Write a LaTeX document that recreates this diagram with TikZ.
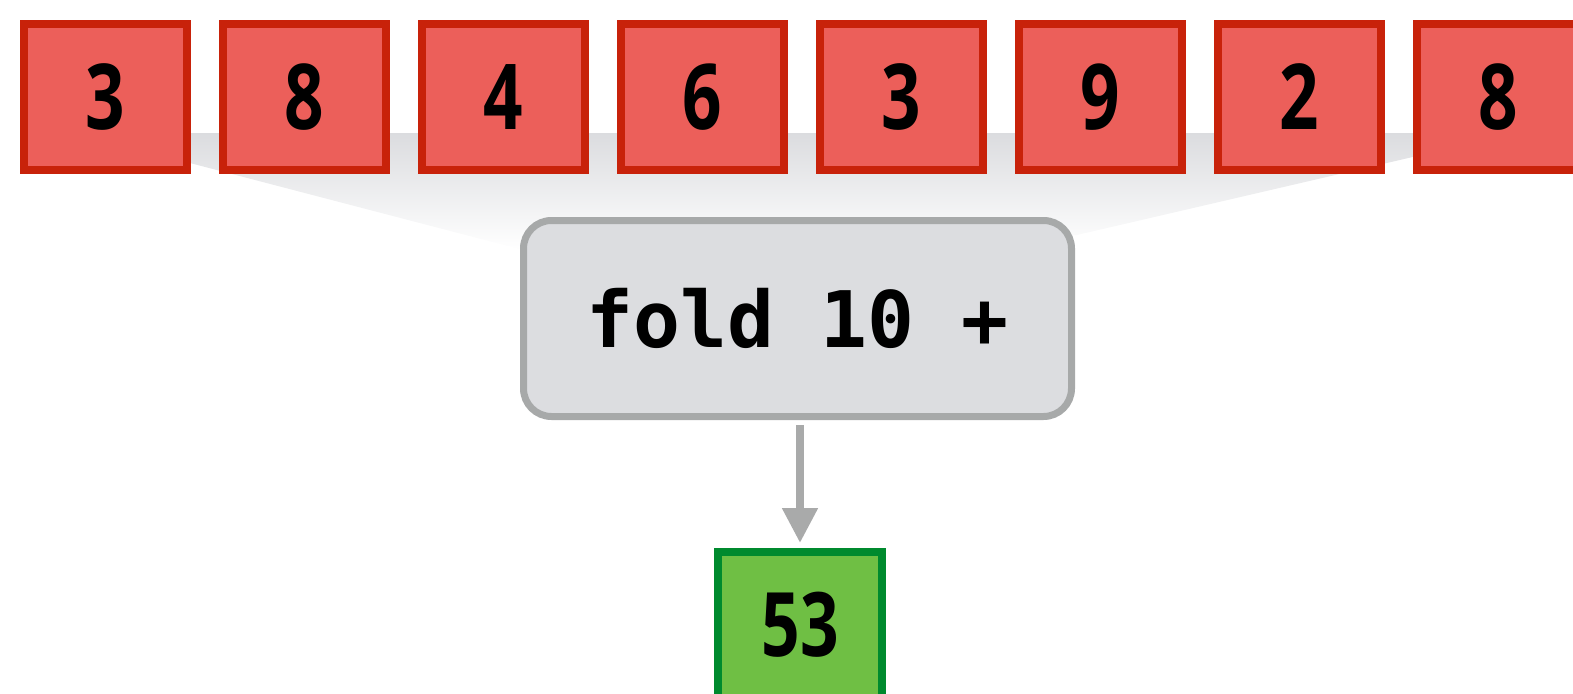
\documentclass[tikz,border=0pt]{standalone}
\usepackage{fontspec}
\newfontfamily\digitfont{Open Sans}
\newfontfamily\codefont{DejaVu Sans Mono}
\usetikzlibrary{arrows.meta}
\definecolor{redfill}{HTML}{EC5F5A}
\definecolor{redline}{HTML}{C8220A}
\definecolor{greenfill}{HTML}{6FBF44}
\definecolor{greenline}{HTML}{008A2E}
\definecolor{foldfill}{HTML}{DCDDE0}
\definecolor{foldline}{HTML}{A7A9A9}
\definecolor{funnel}{HTML}{DBDCDF}
\definecolor{arrowgray}{HTML}{A9AAAA}
\tikzset{
  valbox/.style={draw=redline, fill=redfill, line width=8pt, minimum width=163pt, minimum height=146pt, inner sep=0pt,
    font=\digitfont\bfseries\fontsize{91}{91}\selectfont},
  resbox/.style={draw=greenline, fill=greenfill, line width=8pt, minimum width=164pt, minimum height=146pt, inner sep=0pt,
    font=\digitfont\bfseries\fontsize{89}{89}\selectfont},
  foldbox/.style={draw=foldline, fill=foldfill, line width=7pt, rounded corners=28pt, minimum width=548pt, minimum height=196pt, inner sep=0pt,
    font=\codefont\bfseries\fontsize{78}{80}\selectfont},
  flow/.style={draw=arrowgray, line width=8pt, -{Triangle[width=34pt,length=35pt]}, shorten <=5pt, shorten >=5pt}
}
\newcommand{\narrow}[1]{\scalebox{0.76}[1]{#1}}
\begin{document}
\begin{tikzpicture}[x=1pt,y=-1pt]
\useasboundingbox (0,0) rectangle (1573,693);
\shade[top color=funnel, bottom color=white] (75,133) -- (1516,133) -- (1077,235) -- (800,245) -- (523,250) -- cycle;
\foreach \v [count=\i from 0] in {3,8,4,6,3,9,2,8} {
  \node[valbox] (v\i) at (105.5+199*\i, 97) {\narrow{\v}};
}
\node[foldbox] (fold) at (797.5, 318.5) {fold 10 +};
\node[resbox] (res) at (800, 625) {\narrow{53}};
\draw[flow] (fold.south -| res.north) -- (res.north);
\end{tikzpicture}
\end{document}
